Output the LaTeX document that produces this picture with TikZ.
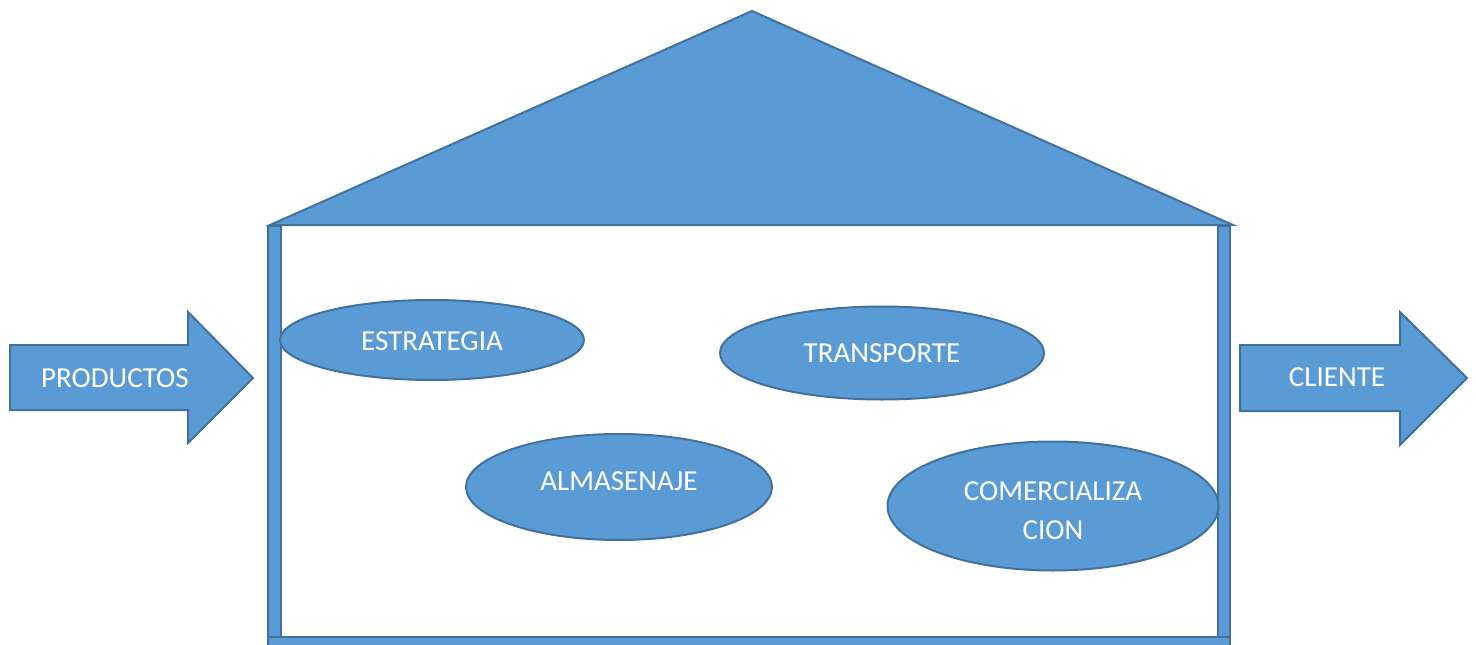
\documentclass[tikz,border=0pt]{standalone}
\usepackage{fontspec}
\setmainfont{Carlito}
\usetikzlibrary{shapes.geometric}
\definecolor{boxfill}{HTML}{5B9BD5}
\definecolor{boxline}{HTML}{41719C}
\begin{document}
\begin{tikzpicture}[x=1pt,y=-1pt,
  part/.style={fill=boxfill,draw=boxline,line width=2pt,line join=miter},
  oval/.style={ellipse,fill=boxfill,draw=boxline,line width=2pt,inner sep=0pt},
  lbl/.style={text=white,font=\fontsize{29}{39}\selectfont,align=center}]
\useasboundingbox (0,0) rectangle (1476,645);
% roof
\draw[part] (270,225) -- (752,11) -- (1233,225) -- cycle;
% walls and floor
\draw[part] (268,226) rectangle (281,650);
\draw[part] (1218,226) rectangle (1230,650);
\draw[part] (268,637) rectangle (1230,650);
% incoming and outgoing arrows
\draw[part] (10,345) -- (188,345) -- (188,312) -- (253,378) -- (188,443) -- (188,410) -- (10,410) -- cycle;
\draw[part] (1240,345) -- (1400,345) -- (1400,312) -- (1467,378) -- (1400,445) -- (1400,411) -- (1240,411) -- cycle;
\node[lbl] (prod) at (115,378) {PRODUCTOS};
\node[lbl] (cli) at (1337,377) {CLIENTE};
% activities inside the house
\node[oval,minimum width=304pt,minimum height=80pt] (est) at (432,340) {};
\node[lbl] at (432,341) {ESTRATEGIA};
\node[oval,minimum width=324pt,minimum height=93pt] (tra) at (882,353) {};
\node[lbl] at (882,353) {TRANSPORTE};
\node[oval,minimum width=306pt,minimum height=106pt] (alm) at (619,487) {};
\node[lbl] at (619,481) {ALMASENAJE};
\node[oval,minimum width=331pt,minimum height=129pt] (com) at (1053,506) {};
\node[lbl] at (1053,511) {COMERCIALIZA\\CION};
\end{tikzpicture}
\end{document}
